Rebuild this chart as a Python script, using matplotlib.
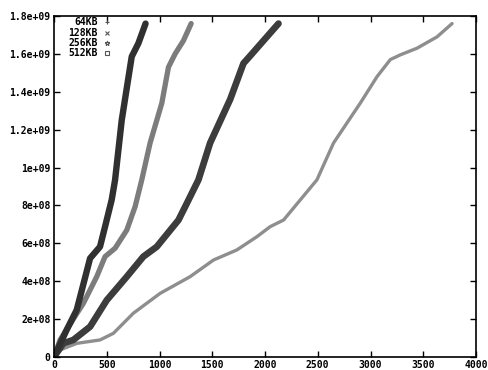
import matplotlib
matplotlib.use("Agg")
import matplotlib.pyplot as plt
from matplotlib.ticker import FixedLocator, FixedFormatter

labels = ["64KB", "128KB", "256KB", "512KB"]
markers = ["+", "x", "*", "s"]

# 512KB (fastest, darkest)
x_512 = [0, 120, 215, 342, 436, 484, 547, 579, 642, 721, 737, 800, 868]
y_512 = [0, 1.43e8, 2.48e8, 5.21e8, 5.82e8, 6.88e8, 8.3e8, 9.35e8, 12.5e8, 15.3e8, 15.86e8, 16.56e8, 17.6e8]
# 256KB (medium gray)
x_256 = [0, 57, 278, 405, 484, 579, 690, 769, 832, 911, 1022, 1085, 1148, 1227, 1300]
y_256 = [0, 0.9e8, 2.83e8, 4.24e8, 5.3e8, 5.74e8, 6.7e8, 7.94e8, 9.35e8, 11.3e8, 13.4e8, 15.3e8, 16.0e8, 16.7e8, 17.6e8]
# 128KB (dark, thick)
x_128 = [0, 88, 183, 342, 500, 690, 847, 974, 1180, 1259, 1369, 1480, 1670, 1796, 1860, 2049, 2128]
y_128 = [0, 0.72e8, 0.9e8, 1.6e8, 3.0e8, 4.24e8, 5.3e8, 5.82e8, 7.23e8, 8.11e8, 9.35e8, 11.3e8, 13.6e8, 15.5e8, 15.9e8, 17.1e8, 17.6e8]
# 64KB (light gray, thin)
x_64 = [0, 57, 215, 436, 563, 752, 1006, 1290, 1512, 1733, 1923, 2049, 2176, 2334, 2492, 2650, 2903, 3062, 3188, 3283, 3441, 3631, 3773]
y_64 = [0, 0.37e8, 0.72e8, 0.9e8, 1.25e8, 2.31e8, 3.36e8, 4.24e8, 5.12e8, 5.65e8, 6.35e8, 6.88e8, 7.23e8, 8.29e8, 9.35e8, 11.3e8, 13.4e8, 14.8e8, 15.7e8, 15.95e8, 16.3e8, 16.9e8, 17.6e8]

x_ticks = [0, 500, 1000, 1500, 2000, 2500, 3000, 3500, 4000]
x_tick_labels = ["0", "500", "1000", "1500", "2000", "2500", "3000", "3500", "4000"]
y_ticks = [0, 2e8, 4e8, 6e8, 8e8, 1e9, 1.2e9, 1.4e9, 1.6e9, 1.8e9]
y_tick_labels = ["0", "2e+08", "4e+08", "6e+08", "8e+08", "1e+09", "1.2e+09", "1.4e+09", "1.6e+09", "1.8e+09"]

fig = plt.figure(figsize=(4.89, 3.70), dpi=100)
ax = fig.add_axes([54 / 489, 13 / 370, (476 - 54) / 489, (357 - 16) / 370])

font = dict(family="DejaVu Sans Mono", weight="bold", size=7)

style = dict(solid_capstyle="round", solid_joinstyle="round")
ax.plot(x_64, y_64, color="#8e8e8e", lw=2.4, **style)
ax.plot(x_128, y_128, color="#3c3c3c", lw=4.8, **style)
ax.plot(x_256, y_256, color="#7c7c7c", lw=3.8, **style)
ax.plot(x_512, y_512, color="#303030", lw=4.6, **style)

ax.set_xlim(0, 4000)
ax.set_ylim(0, 1.8e9)
ax.xaxis.set_major_locator(FixedLocator(x_ticks))
ax.xaxis.set_major_formatter(FixedFormatter(x_tick_labels))
ax.yaxis.set_major_locator(FixedLocator(y_ticks))
ax.yaxis.set_major_formatter(FixedFormatter(y_tick_labels))
ax.tick_params(direction="in", length=4, width=1, top=True, right=True, pad=2.5)
for lab in ax.get_xticklabels() + ax.get_yticklabels():
    lab.set_fontfamily(font["family"])
    lab.set_fontweight("bold")
    lab.set_fontsize(7)
for s in ax.spines.values():
    s.set_linewidth(1.2)

# legend (gnuplot style: right-aligned label, then point symbol)
for i, (lab, mk) in enumerate(zip(labels, markers)):
    yy = 0.982 - i * 0.0305
    ax.text(0.104, yy, lab, transform=ax.transAxes, ha="right", va="center", **font)
    ax.plot([0.125], [yy], transform=ax.transAxes, marker=mk, color="#555555",
            markersize=3.5, markerfacecolor="none", markeredgewidth=0.8, clip_on=False)

fig.savefig("out.png", dpi=100)
